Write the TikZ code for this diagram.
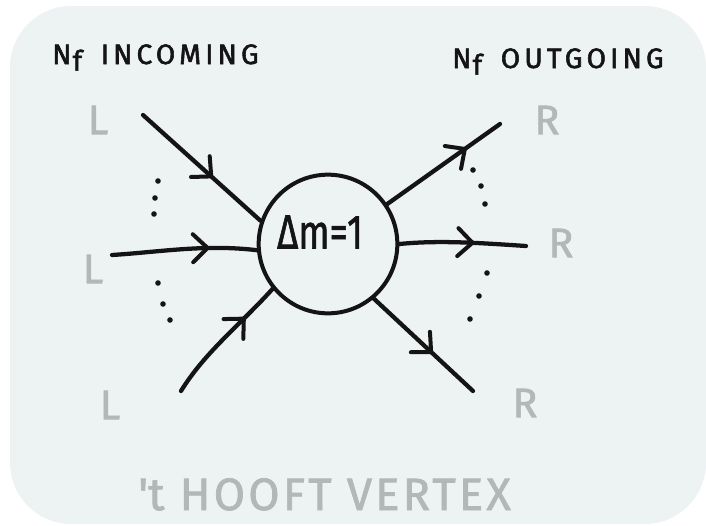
\documentclass[tikz,border=0pt]{standalone}
\usepackage{fontspec}
\setmainfont{Fira Sans}
\usetikzlibrary{arrows.meta,decorations.markings}
\definecolor{bgc}{HTML}{EDF2F2}
\definecolor{ink}{HTML}{141414}
\definecolor{soft}{HTML}{B3B7B7}
\begin{document}
\begin{tikzpicture}[x=0.75pt,y=-0.75pt,
  fline/.style={ink, line width=3.2pt, line cap=round, line join=round,
    postaction={decorate},
    decoration={markings, mark=at position #1 with {\arrow{Straight Barb[length=11pt,width=21pt,line width=3pt, line cap=round]}}}},
  fline/.default=0.6,
  vertexnode/.style={circle, draw=ink, line width=3pt, minimum size=104pt, inner sep=0pt},
  vtext/.style={ink, font=\fontsize{36}{36}\selectfont\addfontfeature{FakeBold=1.5}},
  title/.style={ink, font=\fontsize{21}{22}\selectfont\addfontfeature{LetterSpace=15,FakeBold=2}},
  side/.style={soft, font=\fontsize{31}{31}\selectfont\addfontfeature{FakeBold=1.5}},
  caption/.style={soft, font=\fontsize{34}{35}\selectfont\addfontfeature{LetterSpace=7,FakeBold=1.5}},
  dotmark/.style={ink}
]
\path[use as bounding box] (0,0) rectangle (706,525);
\fill[bgc, rounded corners=46pt] (10,6) rectangle (706,524);

% titles
\node[title, anchor=base west, inner sep=0pt] (tin) at (52,64) {N\kern1pt\raisebox{-5pt}{f}\kern14pt INCOMING};
\node[title, anchor=base west, inner sep=0pt] (tout) at (452,68) {N\kern1pt\raisebox{-5pt}{f}\kern14pt OUTGOING};

% vertex
\node[vertexnode] (v) at (328,244) {};
\node[vtext] (vt) at (320,232) {\scalebox{0.76}[1]{Δm=1}};

% free ends
\coordinate (l1) at (143,115);
\coordinate (l2) at (112,255);
\coordinate (l3) at (181,391);
\coordinate (r1) at (500,124);
\coordinate (r2) at (526,246);
\coordinate (r3) at (473,391);

% connectors
\draw[fline=0.6] (l1) -- (v.161);
\draw[fline=0.68] (l2) .. controls (160,252) and (205,244) .. (v.185);
\draw[fline=0.72] (l3) .. controls (205,352) and (240,325) .. (v.219);
\draw[fline=0.71] (v.34) -- (r1);
\draw[fline=0.6] (v.0) .. controls (440,240) and (480,243) .. (r2);
\draw[fline=0.6] (v.310) -- (r3);

% dots
\foreach \p [count=\i] in {(158,181),(155,198),(154,214),(158,283),(163,304),(170,320),
  (473,170),(481,186),(485,204),(487,273),(479,296),(470,319)}
  \fill[dotmark] \p circle[radius=2.1pt];

% labels
\node[side] (la) at (98,120) {L};
\node[side] (lb) at (93,269) {L};
\node[side] (lc) at (110,405) {L};
\node[side] (ra) at (547,120) {R};
\node[side] (rb) at (561,243) {R};
\node[side] (rc) at (525,403) {R};

% caption
\node[caption, anchor=base west, inner sep=0pt] (cap) at (138,510) {\textquotesingle t HOOFT VERTEX};
\end{tikzpicture}
\end{document}
